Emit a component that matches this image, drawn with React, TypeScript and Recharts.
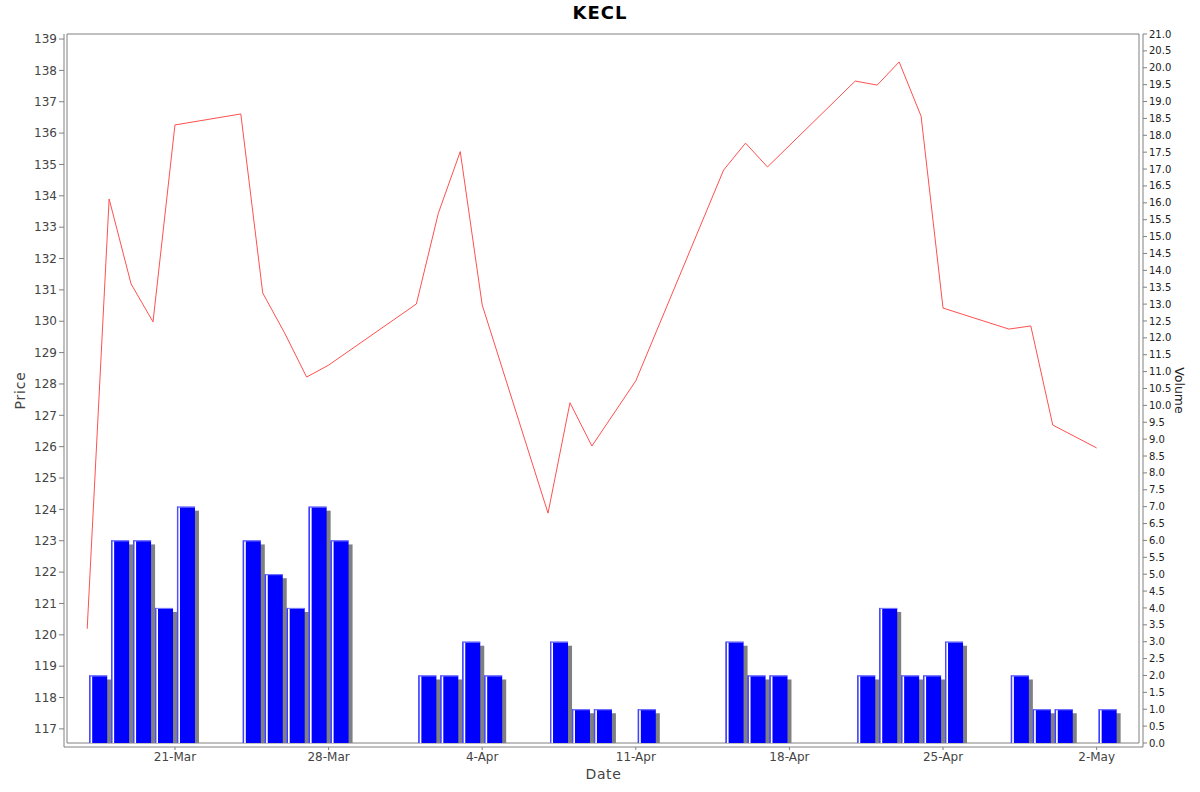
import React from 'react';
import { ComposedChart, Line, Bar, XAxis, YAxis, ReferenceArea } from 'recharts';

// trading days shown on the chart (2025)
const dates = [
  '2025-03-17', '2025-03-18', '2025-03-19', '2025-03-20', '2025-03-21',
  '2025-03-24', '2025-03-25', '2025-03-26', '2025-03-27', '2025-03-28',
  '2025-04-01', '2025-04-02', '2025-04-03', '2025-04-04',
  '2025-04-07', '2025-04-08', '2025-04-09', '2025-04-11',
  '2025-04-15', '2025-04-16', '2025-04-17',
  '2025-04-21', '2025-04-22', '2025-04-23', '2025-04-24', '2025-04-25',
  '2025-04-28', '2025-04-29', '2025-04-30', '2025-05-02',
];

const prices = [
  120.19, 133.9, 131.19, 129.98, 136.26,
  136.61, 130.9, 129.62, 128.22, 128.6,
  130.55, 133.44, 135.41, 130.52,
  123.88, 127.4, 126.02, 128.1,
  134.82, 135.68, 134.92,
  137.66, 137.53, 138.27, 136.54, 130.42,
  129.75, 129.85, 126.69, 125.96,
];

const volumes = [
  2, 6, 6, 4, 7,
  6, 5, 4, 7, 6,
  2, 2, 3, 2,
  3, 1, 1, 1,
  3, 2, 2,
  2, 4, 2, 2, 3,
  2, 1, 1, 1,
];

const tickDates = ['2025-03-21', '2025-03-28', '2025-04-04', '2025-04-11', '2025-04-18', '2025-04-25', '2025-05-02'];
const priceTicks = [117, 118, 119, 120, 121, 122, 123, 124, 125, 126, 127, 128, 129, 130, 131, 132, 133, 134, 135, 136, 137, 138, 139];
const volumeTicks = [
  0, 0.5, 1, 1.5, 2, 2.5, 3, 3.5, 4, 4.5, 5, 5.5, 6, 6.5, 7, 7.5, 8, 8.5, 9, 9.5, 10,
  10.5, 11, 11.5, 12, 12.5, 13, 13.5, 14, 14.5, 15, 15.5, 16, 16.5, 17, 17.5, 18, 18.5,
  19, 19.5, 20, 20.5, 21,
];
const months = ['Jan', 'Feb', 'Mar', 'Apr', 'May', 'Jun', 'Jul', 'Aug', 'Sep', 'Oct', 'Nov', 'Dec'];

const DAY_MS = 86400000;
const START = Date.parse(dates[0]);
const dayOf = (iso: string) => (Date.parse(iso) - START) / DAY_MS;

const X_DOMAIN: [number, number] = [-0.92, 47.93];
const PRICE_DOMAIN: [number, number] = [116.55, 139.16];
const VOLUME_DOMAIN: [number, number] = [0, 21];

const data = dates.map((d, i) => ({
  day: dayOf(d),
  barDay: dayOf(d) + 0.5, // volume bars sit over the whole trading day
  price: prices[i],
  volume: volumes[i],
}));

const tickDays = tickDates.map(dayOf);

const formatDay = (day: number) => {
  const dt = new Date(START + day * DAY_MS);
  return `${dt.getUTCDate()}-${months[dt.getUTCMonth()]}`;
};

const VolumeBar = (props: any) => {
  const { x, y, width, height } = props;
  if (!height || height <= 0) return null;
  return (
    <g>
      <rect x={x + 4} y={y + 4} width={width} height={Math.max(height - 4, 0)} fill="#808080" />
      <rect x={x} y={y} width={width} height={height} fill="#0000ff" />
      <line x1={x} y1={y + 0.5} x2={x + width} y2={y + 0.5} stroke="#8080ff" strokeWidth={1} />
      <line x1={x + 0.5} y1={y} x2={x + 0.5} y2={y + height} stroke="#5050ff" strokeWidth={1} />
      <rect x={x + 1.3} y={y + 1} width={1.7} height={Math.max(height - 1, 0)} fill="#ffffff" />
    </g>
  );
};

const axisColor = '#808080';

export default function App() {
  return (
    <div
      style={{
        position: 'absolute',
        left: 0,
        top: 0,
        width: 1200,
        height: 792,
        background: '#ffffff',
        fontFamily: "'DejaVu Sans', sans-serif",
      }}
    >
      <div
        style={{
          position: 'absolute',
          top: 0,
          left: 0,
          width: 1200,
          height: 26,
          lineHeight: '26px',
          textAlign: 'center',
          fontSize: 18,
          fontWeight: 'bold',
          letterSpacing: 1,
          color: '#000',
        }}
      >
        KECL
      </div>
      <ComposedChart
        width={1200}
        height={792}
        data={data}
        margin={{ top: 34, right: 0, bottom: 0, left: 0 }}
      >
        <XAxis
          xAxisId="bar"
          dataKey="barDay"
          type="number"
          domain={X_DOMAIN}
          allowDataOverflow
          padding={{ left: 3, right: 4 }}
          height={0}
          hide
        />
        <XAxis
          xAxisId="main"
          dataKey="day"
          type="number"
          domain={X_DOMAIN}
          allowDataOverflow
          ticks={tickDays}
          interval={0}
          tickFormatter={formatDay}
          height={45}
          padding={{ left: 3, right: 4 }}
          stroke={axisColor}
          tickSize={3}
          tickMargin={2}
          tick={{ fill: '#444', fontSize: 12 }}
          label={{ value: 'Date', position: 'center', dy: 5, fill: '#444', fontSize: 14, letterSpacing: 0.6 }}
        />
        <YAxis
          yAxisId="price"
          orientation="left"
          type="number"
          domain={PRICE_DOMAIN}
          allowDataOverflow
          ticks={priceTicks}
          interval={0}
          width={64}
          padding={{ top: 0, bottom: 4 }}
          stroke={axisColor}
          tickSize={5}
          tickMargin={2}
          tick={{ fill: '#444', fontSize: 12 }}
          label={{ value: 'Price', angle: -90, position: 'center', dx: -12, fill: '#444', fontSize: 14, letterSpacing: 0.8 }}
        />
        <YAxis
          yAxisId="vol"
          orientation="right"
          type="number"
          domain={VOLUME_DOMAIN}
          allowDataOverflow
          ticks={volumeTicks}
          interval={0}
          width={57}
          padding={{ top: 0, bottom: 4 }}
          stroke={axisColor}
          tickSize={4}
          tickMargin={2}
          tickFormatter={(v: number) => v.toFixed(1)}
          tick={{ fill: '#222', fontSize: 10 }}
          label={{ value: 'Volume', angle: 90, position: 'center', dx: 8, fill: '#222', fontSize: 12.5 }}
        />
        <Bar
          xAxisId="bar"
          yAxisId="vol"
          dataKey="volume"
          barSize={18}
          shape={VolumeBar}
          isAnimationActive={false}
        />
        <Line
          xAxisId="main"
          yAxisId="price"
          type="linear"
          dataKey="price"
          stroke="#ff5050"
          strokeWidth={1}
          dot={false}
          activeDot={false}
          isAnimationActive={false}
        />
        <ReferenceArea
          xAxisId="main"
          yAxisId="price"
          x1={X_DOMAIN[0]}
          x2={X_DOMAIN[1]}
          y1={PRICE_DOMAIN[0]}
          y2={PRICE_DOMAIN[1]}
          fill="none"
          stroke={axisColor}
          strokeWidth={1}
          ifOverflow="visible"
        />
      </ComposedChart>
    </div>
  );
}
